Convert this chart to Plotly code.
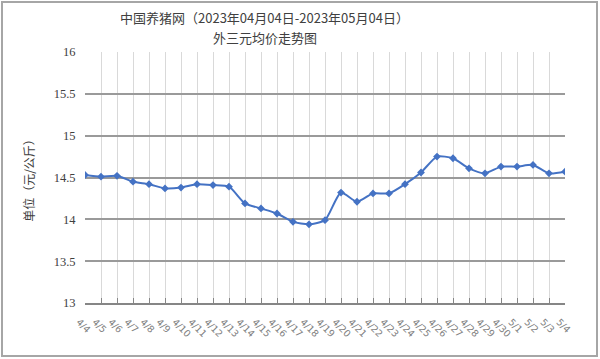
import plotly.graph_objects as go

dates = ["4/4", "4/5", "4/6", "4/7", "4/8", "4/9", "4/10", "4/11", "4/12", "4/13",
         "4/14", "4/15", "4/16", "4/17", "4/18", "4/19", "4/20", "4/21", "4/22", "4/23",
         "4/24", "4/25", "4/26", "4/27", "4/28", "4/29", "4/30", "5/1", "5/2", "5/3", "5/4"]
prices = [14.53, 14.51, 14.52, 14.45, 14.42, 14.37, 14.38, 14.42, 14.41, 14.39,
          14.19, 14.13, 14.07, 13.97, 13.94, 13.99, 14.32, 14.21, 14.31, 14.31,
          14.42, 14.56, 14.75, 14.73, 14.61, 14.55, 14.63, 14.63, 14.65, 14.55, 14.57]
y_ticks = [13, 13.5, 14, 14.5, 15, 15.5, 16]
y_labels = ["13", "13.5", "14", "14.5", "15", "15.5", "16"]
title_line1 = "中国养猪网（2023年04月04日-2023年05月04日）"
title_line2 = "外三元均价走势图"

idx = list(range(len(dates)))

fig = go.Figure()
fig.add_trace(go.Scatter(
    x=idx, y=prices, mode="lines+markers",
    line=dict(color="#4472C4", width=2, shape="spline", smoothing=0.6),
    marker=dict(symbol="diamond", size=6, color="#4472C4"),
    showlegend=False,
))

title_font = dict(family="Noto Sans CJK SC", size=13, color="#404040")
fig.update_layout(
    width=600, height=359,
    paper_bgcolor="white", plot_bgcolor="white",
    margin=dict(l=85, r=35, t=52, b=56, autoexpand=False),
    font=dict(family="Noto Sans CJK SC", color="#404040"),
    annotations=[
        dict(text=title_line1, xref="paper", yref="paper", x=(264 - 85) / 480, y=1 + 35 / 251,
             xanchor="center", yanchor="middle", showarrow=False, font=title_font),
        dict(text=title_line2, xref="paper", yref="paper", x=(265 - 85) / 480, y=1 + 15 / 251,
             xanchor="center", yanchor="middle", showarrow=False, font=title_font),
    ],
    shapes=[dict(type="rect", xref="paper", yref="paper",
                 x0=-83 / 480, x1=1 + 32 / 480, y0=-53 / 251, y1=1 + 50 / 251,
                 line=dict(color="#a6a6a6", width=2), layer="below")],
)

fig.update_xaxes(
    range=[0, len(dates) - 1], automargin=False,
    tickmode="array", tickvals=idx, ticktext=dates,
    tickangle=45,
    tickfont=dict(family="DejaVu Sans", size=9.5, color="#7f7f7f"),
    ticklabelshift=-6, ticklabelstandoff=8,
    showgrid=True, gridcolor="#d9d9d9", gridwidth=1,
    showline=True, linecolor="#868686", linewidth=1.5,
    ticks="inside", ticklen=5, tickcolor="#868686",
    zeroline=False,
)
fig.update_yaxes(
    range=[13, 16], automargin=False,
    tickmode="array", tickvals=y_ticks, ticktext=y_labels,
    tickfont=dict(family="Liberation Serif", size=12.5, color="#404040"),
    showgrid=True, gridcolor="#9a9a9a", gridwidth=1.5,
    showline=False, zeroline=False,
    ticks="outside", ticklen=6, tickcolor="white",
    title=dict(text="单位（元/公斤）", standoff=16,
               font=dict(family="Noto Sans CJK SC", size=12, color="#404040")),
)

fig.write_html("out.html", config={"displayModeBar": False},
               post_script="document.body.style.margin='0';")
